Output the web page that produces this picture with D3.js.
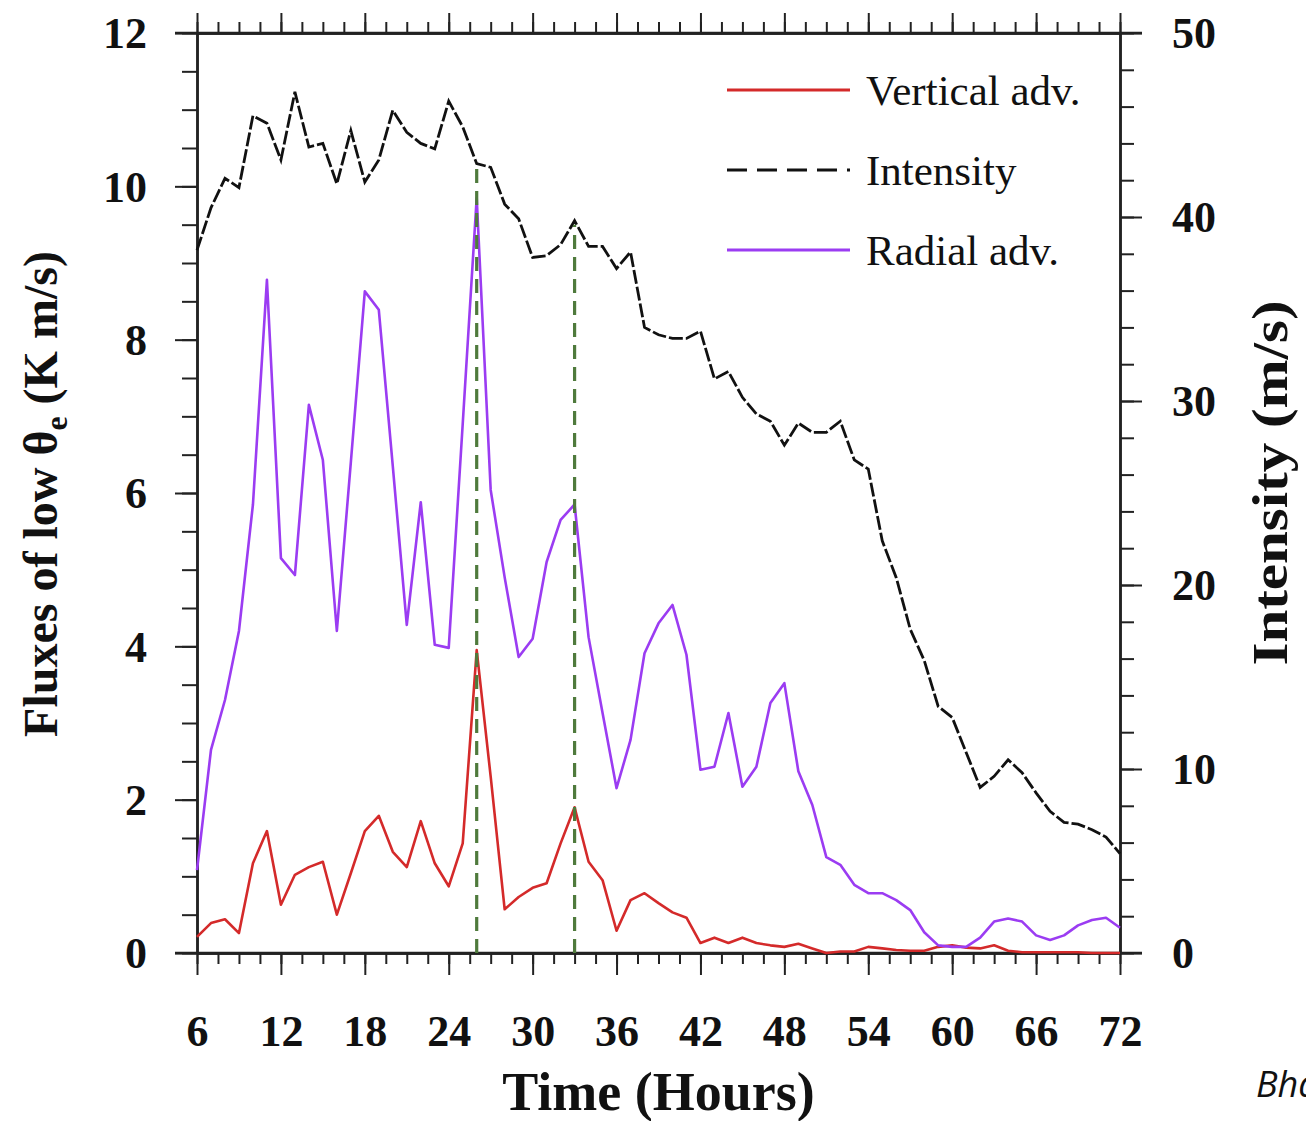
<!DOCTYPE html>
<html>
<head>
<meta charset="utf-8">
<script src="https://cdn.jsdelivr.net/npm/d3@7"></script>
<style>
  body { margin: 0; background: #fff; }
  svg { display: block; }
  text { font-family: "Liberation Serif", "Times New Roman", serif; }
</style>
</head>
<body>
<svg id="chart" width="1306" height="1121"></svg>
<script>
// hours 6..72, hourly output
var hours = d3.range(6, 73);

var verticalAdv = [
    0.21, 0.39, 0.44, 0.26, 1.17, 1.59, 0.63, 1.02, 1.12, 1.19,
    0.50, 1.04, 1.59, 1.79, 1.32, 1.12, 1.72, 1.17, 0.87, 1.43,
    3.95, 2.30, 0.57, 0.73, 0.85, 0.91, 1.43, 1.90, 1.19, 0.95,
    0.29, 0.69, 0.78, 0.65, 0.53, 0.46, 0.13, 0.20, 0.13, 0.20,
    0.13, 0.10, 0.08, 0.12, 0.06, 0.00, 0.02, 0.02, 0.08, 0.06,
    0.04, 0.03, 0.03, 0.08, 0.10, 0.07, 0.06, 0.10, 0.03, 0.01,
    0.01, 0.01, 0.01, 0.01, 0.00, 0.00, 0.00
];
var radialAdv = [
    1.08, 2.65, 3.30, 4.20, 5.85, 8.78, 5.15, 4.93, 7.15, 6.43,
    4.20, 6.40, 8.63, 8.39, 6.35, 4.28, 5.88, 4.02, 3.98, 6.90,
    9.85, 6.04, 4.90, 3.86, 4.10, 5.10, 5.65, 5.85, 4.12, 3.13,
    2.15, 2.78, 3.91, 4.30, 4.54, 3.89, 2.39, 2.43, 3.13, 2.17,
    2.43, 3.26, 3.52, 2.37, 1.93, 1.25, 1.15, 0.89, 0.78, 0.78,
    0.69, 0.56, 0.27, 0.10, 0.08, 0.08, 0.20, 0.41, 0.45, 0.41,
    0.23, 0.17, 0.23, 0.36, 0.43, 0.46, 0.33
];
var intensity = [
    38.2, 40.5, 42.1, 41.6, 45.5, 45.1, 43.1, 46.8, 43.8, 44.0,
    41.8, 44.7, 41.9, 43.1, 45.8, 44.6, 44.0, 43.7, 46.3, 44.9,
    42.9, 42.7, 40.7, 39.9, 37.8, 37.9, 38.5, 39.8, 38.4, 38.4,
    37.2, 38.1, 34.0, 33.6, 33.4, 33.4, 33.8, 31.2, 31.6, 30.2,
    29.3, 28.9, 27.6, 28.8, 28.3, 28.3, 28.9, 26.8, 26.3, 22.4,
    20.4, 17.6, 15.9, 13.4, 12.8, 10.9, 9.0, 9.6, 10.5, 9.8,
    8.7, 7.7, 7.1, 7.0, 6.7, 6.3, 5.4
];
var markerHours = [26, 33];

var xTicks = [6, 12, 18, 24, 30, 36, 42, 48, 54, 60, 66, 72];
var yLeftTicks = [0, 2, 4, 6, 8, 10, 12];
var yRightTicks = [0, 10, 20, 30, 40, 50];

var legendItems = [
    { label: 'Vertical adv.', color: '#d42a2a', dash: null },
    { label: 'Intensity', color: '#111', dash: '20,10' },
    { label: 'Radial adv.', color: '#9b3cf2', dash: null }
];

(function () {
    var svg = d3.select('#chart');
    var pLeft = 197, pRight = 1120, pTop = 33, pBottom = 953;

    var x = d3.scaleLinear().domain([6, 72]).range([pLeft, pRight]);
    var yL = d3.scaleLinear().domain([0, 12]).range([pBottom, pTop]);
    var yR = d3.scaleLinear().domain([0, 50]).range([pBottom, pTop]);

    var axisColor = '#222';

    function minorTicks(axis) {
        return axis.tickFormat('').tickSizeOuter(0);
    }

    // minor ticks first, then majors with labels
    svg.append('g').attr('transform', 'translate(0,' + pBottom + ')')
        .call(minorTicks(d3.axisBottom(x).tickValues(d3.range(6, 72.1, 1.5)).tickSize(11)));
    svg.append('g').attr('transform', 'translate(0,' + pTop + ')')
        .call(minorTicks(d3.axisTop(x).tickValues(d3.range(6, 72.1, 1.5)).tickSize(11)));
    svg.append('g').attr('transform', 'translate(' + pLeft + ',0)')
        .call(minorTicks(d3.axisLeft(yL).tickValues(d3.range(0, 12.1, 0.5)).tickSize(15)));
    svg.append('g').attr('transform', 'translate(' + pRight + ',0)')
        .call(minorTicks(d3.axisRight(yR).tickValues(d3.range(0, 50.1, 2)).tickSize(14)));

    var xAxisB = svg.append('g')
        .attr('transform', 'translate(0,' + pBottom + ')')
        .call(d3.axisBottom(x).tickValues(xTicks).tickSize(22).tickPadding(40).tickSizeOuter(0));
    svg.append('g').attr('transform', 'translate(0,' + pTop + ')')
        .call(d3.axisTop(x).tickValues(xTicks).tickSize(20).tickFormat('').tickSizeOuter(0));
    var yAxisL = svg.append('g').attr('transform', 'translate(' + pLeft + ',0)')
        .call(d3.axisLeft(yL).tickValues(yLeftTicks).tickSize(22).tickPadding(28).tickSizeOuter(0));
    var yAxisR = svg.append('g').attr('transform', 'translate(' + pRight + ',0)')
        .call(d3.axisRight(yR).tickValues(yRightTicks).tickSize(22).tickPadding(30).tickSizeOuter(0));

    svg.selectAll('.domain').attr('stroke', axisColor).attr('stroke-width', 2.5);
    svg.selectAll('.tick line').attr('stroke', axisColor).attr('stroke-width', 2);
    svg.selectAll('.tick text')
        .attr('fill', '#111')
        .style('font-family', '"Liberation Serif", serif')
        .style('font-weight', 'bold')
        .style('font-size', '44px');
    yAxisL.selectAll('.tick text').attr('dy', '0.34em');
    yAxisR.selectAll('.tick text').attr('dy', '0.34em');
    xAxisB.selectAll('.tick text').attr('dy', '0.7em');

    // top and bottom frame lines run out past the frame like the y tick marks
    svg.append('line').attr('x1', pLeft - 22).attr('x2', pRight + 22)
        .attr('y1', pTop).attr('y2', pTop).attr('stroke', axisColor).attr('stroke-width', 2.5);
    svg.append('line').attr('x1', pLeft - 22).attr('x2', pRight + 22)
        .attr('y1', pBottom).attr('y2', pBottom).attr('stroke', axisColor).attr('stroke-width', 2.5);

    // data lines
    var lineL = d3.line().x(function (d, i) { return x(hours[i]); }).y(function (d) { return yL(d); });
    var lineR = d3.line().x(function (d, i) { return x(hours[i]); }).y(function (d) { return yR(d); });

    svg.append('path').datum(verticalAdv)
        .attr('d', lineL).attr('fill', 'none')
        .attr('stroke', legendItems[0].color).attr('stroke-width', 2.6).attr('stroke-linejoin', 'round');
    svg.append('path').datum(radialAdv)
        .attr('d', lineL).attr('fill', 'none')
        .attr('stroke', legendItems[2].color).attr('stroke-width', 2.6).attr('stroke-linejoin', 'round');
    svg.append('path').datum(intensity)
        .attr('d', lineR).attr('fill', 'none')
        .attr('stroke', legendItems[1].color).attr('stroke-width', 2.8)
        .attr('stroke-dasharray', '14,3');

    // green markers: from zero up to the intensity at that hour
    svg.selectAll('.marker').data(markerHours).enter().append('line')
        .attr('class', 'marker')
        .attr('x1', function (d) { return x(d); })
        .attr('x2', function (d) { return x(d); })
        .attr('y1', yR(0))
        .attr('y2', function (d) { return yR(intensity[hours.indexOf(d)]) + 4; })
        .attr('stroke', '#4f7a3c').attr('stroke-width', 3.2)
        .attr('stroke-dasharray', '14,8');

    // legend
    var legend = svg.append('g').attr('transform', 'translate(727,90)');
    legendItems.forEach(function (it, i) {
        var g = legend.append('g').attr('transform', 'translate(0,' + (i * 80) + ')');
        g.append('line').attr('x1', 0).attr('x2', 123).attr('y1', 0).attr('y2', 0)
            .attr('stroke', it.color).attr('stroke-width', 2.8)
            .attr('stroke-dasharray', it.dash);
        g.append('text').attr('x', 139).attr('y', 15)
            .style('font-size', '43px').attr('fill', '#111')
            .text(it.label);
    });

    // axis titles
    svg.append('text')
        .attr('transform', 'translate(' + x(39) + ',1110)')
        .attr('text-anchor', 'middle')
        .style('font-size', '54px').style('font-weight', 'bold').attr('fill', '#111')
        .text('Time (Hours)');

    var yt = svg.append('text')
        .attr('transform', 'translate(57,494) rotate(-90)')
        .attr('text-anchor', 'middle')
        .style('font-size', '48px').style('font-weight', 'bold').attr('fill', '#111');
    yt.append('tspan').text('Fluxes of low \u03B8');
    yt.append('tspan').attr('dy', 10).style('font-size', '32px').text('e');
    yt.append('tspan').attr('dy', -10).text(' (K m/s)');

    svg.append('text')
        .attr('transform', 'translate(1287,483) rotate(-90)')
        .attr('text-anchor', 'middle')
        .attr('textLength', 365).attr('lengthAdjust', 'spacingAndGlyphs')
        .style('font-size', '50px').style('font-weight', 'bold').attr('fill', '#111')
        .text('Intensity (m/s)');

    svg.append('text')
        .attr('x', 1256).attr('y', 1097)
        .style('font-family', '"Open Sans", sans-serif')
        .style('font-style', 'italic').style('font-size', '36px').attr('fill', '#111')
        .text('Bha');
})();
</script>
</body>
</html>
